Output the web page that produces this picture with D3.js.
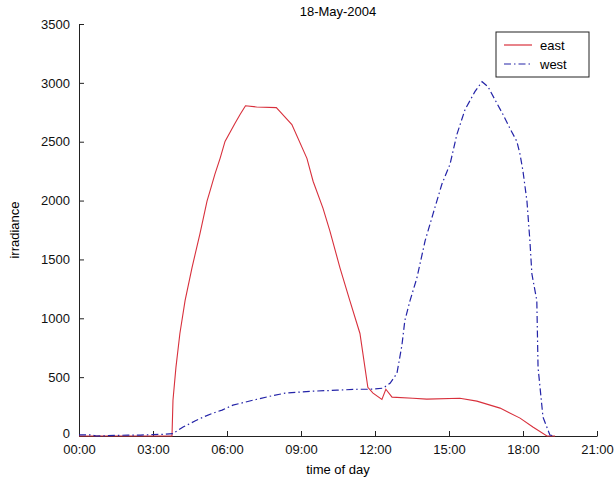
<!DOCTYPE html>
<html>
<head>
<meta charset="utf-8">
<script src="https://cdn.jsdelivr.net/npm/d3@7"></script>
<style>
  body { margin: 0; background: #fff; }
  svg { display: block; font-family: "Liberation Sans", Arial, sans-serif; }
</style>
</head>
<body>
<div id="chart"></div>
<script>
// irradiance on 18-May-2004, hours of day vs value
const eastHours = [0, 3.0, 3.77, 3.81, 3.93, 4.09, 4.30, 4.58, 4.90, 5.19, 5.31, 5.51, 5.72, 5.92, 6.32, 6.53, 6.75, 7.2, 8.0,
  8.15, 8.63, 9.24, 9.49, 9.89, 10.17, 10.58, 10.98, 11.39, 11.71, 11.92, 12.28, 12.44, 12.69, 13.54, 14.1,
  15.44, 16.13, 17.07, 17.88, 18.4, 18.97, 19.3];
const eastValues = [0, 0, 0, 304, 583, 871, 1150, 1429, 1716, 1995, 2080, 2224, 2359, 2503, 2655, 2731, 2805, 2795, 2790,
  2756, 2646, 2359, 2164, 1936, 1742, 1429, 1150, 871, 414, 364, 310, 397, 330, 321, 313,
  321, 296, 237, 152, 76, 0, 0];

const westHours = [0, 0.5, 0.7, 1.5, 2.0, 2.5, 3.0, 3.5, 3.8, 4.22, 4.70, 5.03, 5.43, 5.80, 6.24, 7.05, 7.74, 8.35, 9.36,
  10.46, 11.27, 11.80, 12.32, 12.61, 12.89, 13.09, 13.21, 13.42, 13.70, 14.03, 14.35, 14.71, 15.04, 15.32,
  15.65, 16.05, 16.34, 16.58, 16.86, 17.19, 17.47, 17.75, 17.88, 18.0, 18.16, 18.28, 18.36, 18.56, 18.61,
  18.81, 19.09, 19.3];
const westValues = [10, 10, 0, 5, 8, 8, 12, 15, 20, 76, 127, 160, 194, 220, 262, 304, 338, 364, 380,
  389, 397, 397, 406, 448, 533, 769, 981, 1150, 1344, 1657, 1885, 2139, 2308, 2562,
  2773, 2925, 3010, 2968, 2858, 2731, 2613, 2503, 2393, 2249, 1995, 1657, 1378, 1150, 583,
  161, 8, 0];

const xTicks = [0, 3, 6, 9, 12, 15, 18, 21];
const yTicks = [0, 500, 1000, 1500, 2000, 2500, 3000, 3500];
const seriesNames = ["east", "west"];

const width = 616, height = 484;
const margin = {top: 24, right: 19, bottom: 48, left: 79};
const fs = 13;

const svg = d3.select("#chart").append("svg")
  .attr("width", width)
  .attr("height", height);

const x = d3.scaleLinear().domain([0, 21]).range([margin.left, width - margin.right]);
const y = d3.scaleLinear().domain([0, 3500]).range([height - margin.bottom, margin.top]);

const fmt = h => String(h).padStart(2, "0") + ":00";

// axes, ticks pointing inward like matlab
const xAxis = svg.append("g")
  .attr("transform", `translate(0,${height - margin.bottom})`)
  .call(d3.axisBottom(x).tickValues(xTicks).tickFormat(fmt).tickSizeInner(-5).tickSizeOuter(0).tickPadding(9));
const yAxis = svg.append("g")
  .attr("transform", `translate(${margin.left},0)`)
  .call(d3.axisLeft(y).tickValues(yTicks).tickFormat(d3.format("d")).tickSizeInner(-5).tickSizeOuter(0).tickPadding(9));

[xAxis, yAxis].forEach(a => {
  a.select(".domain").attr("stroke", "#222");
  a.selectAll(".tick line").attr("stroke", "#222");
  a.selectAll("text").attr("font-size", fs).attr("fill", "#111")
    .attr("font-family", "Liberation Sans, Arial, sans-serif");
});
// lift the "0" a little so it clears the 00:00 label
yAxis.selectAll(".tick text").filter(d => d === 0).attr("dy", "0.1em");

const line = d3.line().x(d => x(d[0])).y(d => y(d[1]));

svg.append("path")
  .datum(d3.zip(eastHours, eastValues))
  .attr("fill", "none")
  .attr("stroke", "#d8303c")
  .attr("stroke-width", 1.1)
  .attr("d", line);

svg.append("path")
  .datum(d3.zip(westHours, westValues))
  .attr("fill", "none")
  .attr("stroke", "#2424a8")
  .attr("stroke-width", 1.2)
  .attr("stroke-dasharray", "7,3,1.5,3")
  .attr("d", line);

// labels
svg.append("text")
  .attr("x", (margin.left + width - margin.right) / 2)
  .attr("y", 16)
  .attr("text-anchor", "middle")
  .attr("font-size", fs)
  .text("18-May-2004");

svg.append("text")
  .attr("x", (margin.left + width - margin.right) / 2)
  .attr("y", 474)
  .attr("text-anchor", "middle")
  .attr("font-size", fs)
  .text("time of day");

svg.append("text")
  .attr("transform", `translate(19,${(margin.top + height - margin.bottom) / 2}) rotate(-90)`)
  .attr("text-anchor", "middle")
  .attr("font-size", fs)
  .text("irradiance");

// legend
const lg = svg.append("g").attr("transform", "translate(496,32)");
lg.append("rect")
  .attr("width", 93).attr("height", 45)
  .attr("fill", "#fff").attr("stroke", "#222").attr("stroke-width", 1);
const colors = ["#d8303c", "#2424a8"];
const dashes = [null, "7,3,1.5,3"];
seriesNames.forEach((name, i) => {
  const yy = 13 + i * 19;
  lg.append("line")
    .attr("x1", 8).attr("x2", 36).attr("y1", yy).attr("y2", yy)
    .attr("stroke", colors[i]).attr("stroke-width", 1.2)
    .attr("stroke-dasharray", dashes[i]);
  lg.append("text")
    .attr("x", 44).attr("y", yy + 5)
    .attr("font-size", fs)
    .text(name);
});
</script>
</body>
</html>
